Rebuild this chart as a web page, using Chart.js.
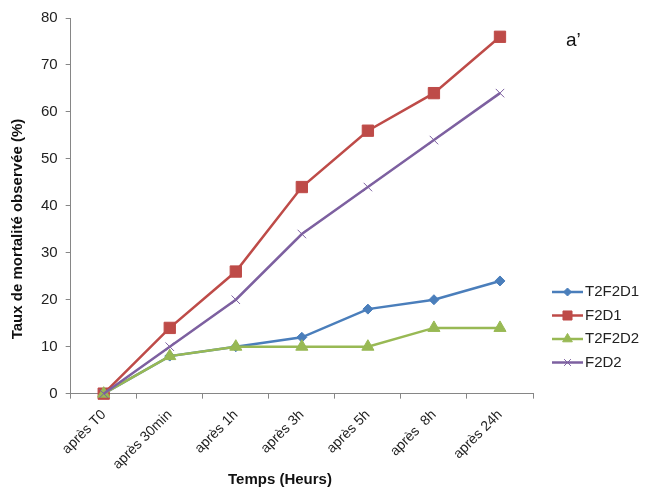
<!DOCTYPE html>
<html>
<head>
<meta charset="utf-8">
<script src="https://cdn.jsdelivr.net/npm/chart.js@4.4.0/dist/chart.umd.min.js"></script>
<style>
  html, body { margin: 0; padding: 0; background: #fff; }
  #wrap { position: relative; width: 645px; height: 488px; }
</style>
</head>
<body>
<div id="wrap"><canvas id="mortGraph" width="645" height="488"></canvas></div>
<script>
const timeLabels = ['après T0', 'après 30min', 'après 1h', 'après 3h', 'après 5h', 'après  8h', 'après 24h'];
const seriesNames = ['T2F2D1', 'F2D1', 'T2F2D2', 'F2D2'];
const t2f2d1 = [0, 8, 10, 12, 18, 20, 24];
const f2d1 = [0, 14, 26, 44, 56, 64, 76];
const t2f2d2 = [0, 8, 10, 10, 10, 14, 14];
const f2d2 = [0, 10, 20, 34, 44, 54, 64];
const yTicks = [0, 10, 20, 30, 40, 50, 60, 70, 80];

const axisGrey = '#868686';
const fontFam = '"Liberation Sans", Arial, sans-serif';

// order: later series end up on top, like in the original
function makeSet(label, data, color, style, radius, order) {
  return {
    label: label,
    data: data,
    order: order,
    borderColor: color,
    backgroundColor: color,
    pointBackgroundColor: color,
    pointBorderColor: color,
    pointStyle: style,
    pointRadius: radius,
    pointBorderWidth: 1,
    borderWidth: 2.5,
    tension: 0,
    clip: false
  };
}

const datasets = [
  makeSet(seriesNames[0], t2f2d1, '#4a7ebb', 'rectRot', 5, 4),
  makeSet(seriesNames[1], f2d1, '#be4b48', 'rect', 8, 3),
  makeSet(seriesNames[2], t2f2d2, '#98b954', 'triangle', 7, 2),
  makeSet(seriesNames[3], f2d2, '#7d60a0', 'crossRot', 6, 1)
];

// legend, panel letter and axis titles drawn by hand so they sit where the original ones are
const extras = {
  id: 'extras',
  afterDraw(chart) {
    const ctx = chart.ctx;
    const x0 = 552, y0 = 292, gap = 23.5;
    ctx.save();
    chart.data.datasets.forEach((ds, i) => {
      const y = y0 + i * gap;
      ctx.strokeStyle = ds.borderColor;
      ctx.lineWidth = 2.5;
      ctx.beginPath();
      ctx.moveTo(x0, y);
      ctx.lineTo(x0 + 31, y);
      ctx.stroke();
      ctx.fillStyle = ds.borderColor;
      ctx.lineWidth = 1;
      Chart.helpers.drawPoint(ctx, {
        pointStyle: ds.pointStyle,
        radius: ds.pointRadius * 0.8,
        rotation: 0,
        borderWidth: 1
      }, x0 + 15.5, y);
      ctx.fillStyle = '#222';
      ctx.font = '15px ' + fontFam;
      ctx.textBaseline = 'middle';
      ctx.textAlign = 'left';
      ctx.fillText(ds.label, x0 + 33, y);
    });
    ctx.font = '19px ' + fontFam;
    ctx.fillStyle = '#111';
    ctx.fillText('a\u2019', 566, 41);

    ctx.font = 'bold 15px ' + fontFam;
    ctx.textAlign = 'center';
    ctx.fillText('Temps (Heurs)', 280, 480);
    ctx.translate(18, 229);
    ctx.rotate(-Math.PI / 2);
    ctx.fillText('Taux de mortalité observée (%)', 0, 0);
    ctx.restore();
  }
};

const ctx = document.getElementById('mortGraph').getContext('2d');
const myChart = new Chart(ctx, {
  type: 'line',
  data: {
    labels: timeLabels,
    datasets: datasets
  },
  plugins: [extras],
  options: {
    responsive: false,
    animation: false,
    layout: {
      padding: { top: 18, right: 112, bottom: 7, left: 33 }
    },
    plugins: {
      legend: { display: false },
      tooltip: { enabled: false }
    },
    scales: {
      x: {
        offset: true,
        grid: {
          offset: true,
          drawOnChartArea: false,
          drawTicks: true,
          tickLength: 5,
          color: axisGrey
        },
        border: { color: axisGrey, width: 1 },
        ticks: {
          minRotation: 45,
          maxRotation: 45,
          color: '#222',
          padding: 8,
          font: { family: fontFam, size: 14 }
        }
      },
      y: {
        min: 0,
        max: 80,
        afterBuildTicks(axis) {
          axis.ticks = yTicks.map(v => ({ value: v }));
        },
        grid: {
          drawOnChartArea: false,
          drawTicks: true,
          tickLength: 5,
          color: axisGrey
        },
        border: { color: axisGrey, width: 1 },
        ticks: {
          color: '#222',
          padding: 8,
          font: { family: fontFam, size: 15 }
        }
      }
    }
  }
});
</script>
</body>
</html>
